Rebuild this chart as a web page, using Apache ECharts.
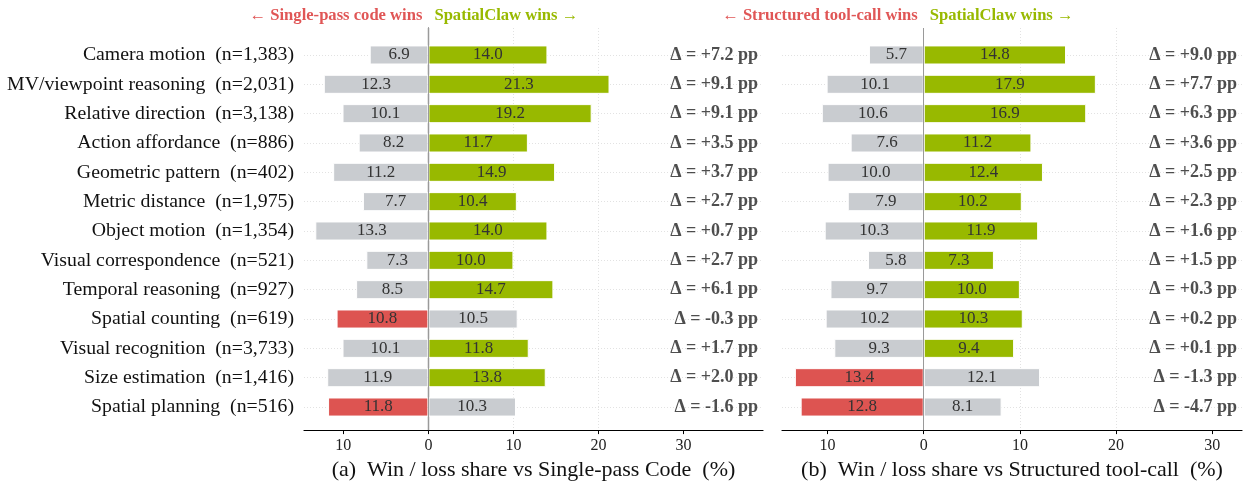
<!DOCTYPE html>
<html><head><meta charset="utf-8">
<script src="https://cdn.jsdelivr.net/npm/echarts@6/dist/echarts.min.js"></script>
<style>html,body{margin:0;padding:0;background:#fff}#c{width:1247px;height:486px}</style>
</head><body><div id="c"></div>
<script>
const categories = ['Camera motion','MV/viewpoint reasoning','Relative direction','Action affordance','Geometric pattern','Metric distance','Object motion','Visual correspondence','Temporal reasoning','Spatial counting','Visual recognition','Size estimation','Spatial planning'];
const counts = ['1,383','2,031','3,138','886','402','1,975','1,354','521','927','619','3,733','1,416','516'];
// panel (a): vs Single-pass Code
const lossA = [6.9,12.3,10.1,8.2,11.2,7.7,13.3,7.3,8.5,10.8,10.1,11.9,11.8];
const winA  = [14.0,21.3,19.2,11.7,14.9,10.4,14.0,10.0,14.7,10.5,11.8,13.8,10.3];
const deltaA = [7.2,9.1,9.1,3.5,3.7,2.7,0.7,2.7,6.1,-0.3,1.7,2.0,-1.6];
// panel (b): vs Structured tool-call
const lossB = [5.7,10.1,10.6,7.6,10.0,7.9,10.3,5.8,9.7,10.2,9.3,13.4,12.8];
const winB  = [14.8,17.9,16.9,11.2,12.4,10.2,11.9,7.3,10.0,10.3,9.4,12.1,8.1];
const deltaB = [9.0,7.7,6.3,3.6,2.5,2.3,1.6,1.5,0.3,0.2,0.1,-1.3,-4.7];
const xTicks = [-10,0,10,20,30];
const headerA = ['← Single-pass code wins','SpatialClaw wins →'];
const headerB = ['← Structured tool-call wins','SpatialClaw wins →'];
const axisTitles = ['(a)  Win / loss share vs Single-pass Code  (%)','(b)  Win / loss share vs Structured tool-call  (%)'];

const FONT = "'Liberation Serif', 'Times New Roman', serif";
const RED = '#dd5451', GREEN = '#98b900', GREY = '#c9ccd0';
const labels = categories.map((c,i)=>c+'  (n='+counts[i]+')');

const panels = [
  {loss: lossA, win: winA, delta: deltaA, min: -14.63, max: 39.35, left: 304, right: 484, showY: true},
  {loss: lossB, win: winB, delta: deltaB, min: -14.74, max: 33.1, left: 782, right: 5, showY: false}
];
const FRAME_TOP = 28, FRAME_BOTTOM = 53, BAR_TOP = 40.3, BAR_BOTTOM = 64.3;

const grid=[], xAxis=[], yAxis=[], series=[];
panels.forEach((p,k)=>{
  const fi = 2*k, bi = 2*k+1;
  grid.push({left:p.left, right:p.right, top:FRAME_TOP, bottom:FRAME_BOTTOM});
  grid.push({left:p.left, right:p.right, top:BAR_TOP, bottom:BAR_BOTTOM});
  xAxis.push({
    type:'value', gridIndex: fi, min:p.min, max:p.max,
    axisLine:{show:true, onZero:false, lineStyle:{color:'#000', width:1.2}},
    axisTick:{show:true, customValues: xTicks, length:4, lineStyle:{color:'#000'}},
    axisLabel:{customValues: xTicks, formatter: v=>String(Math.abs(v)), fontFamily:FONT, fontSize:16, color:'#222', margin:8},
    splitLine:{show:true, showMinLine:false, showMaxLine:false, lineStyle:{color:'#e2e2e2', type:[1,2], width:1}},
    name: axisTitles[k], nameLocation:'middle', nameGap:28,
    nameTextStyle:{fontFamily:FONT, fontSize:22, color:'#111'}
  });
  xAxis.push({type:'value', gridIndex: bi, min:p.min, max:p.max, show:false});
  yAxis.push({type:'value', gridIndex: fi, min:0, max:1,
    axisLine:{show:p.showY, lineStyle:{color:'#000', width:1.2}},
    axisTick:{show:false}, axisLabel:{show:false}, splitLine:{show:false}});
  yAxis.push({type:'category', gridIndex: bi, data: labels, inverse:true,
    axisLine:{show:false},
    axisTick:{show:p.showY, alignWithLabel:true, length:4, lineStyle:{color:'#000'}},
    axisLabel:{show:p.showY, fontFamily:FONT, fontSize:19.8, color:'#111', margin:10},
    splitLine:{show:true, alignWithLabel:true, lineStyle:{color:'#e2e2e2', type:[1,2], width:1}}});
  // zero reference line
  series.push({type:'line', xAxisIndex: fi, yAxisIndex: fi, data: [], z: 6, silent:true,
    markLine:{silent:true, symbol:'none', label:{show:false}, animation:false,
      lineStyle:{color:'#9a9a9a', width:1, type:'solid'}, data:[{xAxis:0}]}});
  const lbl = {show:true, position:'inside', fontFamily:FONT, fontSize:17, color:'#333',
               formatter: q=>Math.abs(q.value).toFixed(1)};
  series.push({type:'bar', xAxisIndex: bi, yAxisIndex: bi, stack:'s'+k, barWidth:'65%',
    data: p.loss.map((v,i)=>({value:-v, itemStyle:{color: p.delta[i]<0?RED:GREY}})),
    itemStyle:{borderColor:'#fff', borderWidth:1}, label: lbl, z:3});
  series.push({type:'bar', xAxisIndex: bi, yAxisIndex: bi, stack:'s'+k, barWidth:'65%',
    data: p.win.map((v,i)=>({value:v, itemStyle:{color: p.delta[i]>0?GREEN:GREY}})),
    itemStyle:{borderColor:'#fff', borderWidth:1}, label: lbl, z:3});
  series.push({type:'scatter', xAxisIndex: bi, yAxisIndex: bi, symbolSize:0, silent:true,
    data: labels.map((c,i)=>[p.max, i]),
    label:{show:true, position:'left', distance:5, fontFamily:FONT, fontSize:18, fontWeight:'bold', color:'#222',
      formatter: q=>{const d=p.delta[q.dataIndex]; return 'Δ = '+(d>=0?'+':'-')+Math.abs(d).toFixed(1)+' pp';}}});
});

const chart = echarts.init(document.getElementById('c'), null, {renderer:'canvas'});
chart.setOption({animation:false, backgroundColor:'#fff', grid, xAxis, yAxis, series});

const heads = [headerA, headerB];
const graphic = [];
panels.forEach((p,k)=>{
  const x0 = chart.convertToPixel({xAxisIndex: 2*k}, 0);
  graphic.push({type:'text', x: x0-6, y:16, style:{text: heads[k][0], textAlign:'right', textVerticalAlign:'middle',
    font: "bold 16.6px "+FONT, fill: '#e05656'}});
  graphic.push({type:'text', x: x0+6, y:16, style:{text: heads[k][1], textAlign:'left', textVerticalAlign:'middle',
    font: "bold 16.6px "+FONT, fill: GREEN}});
});
chart.setOption({graphic});
</script></body></html>
